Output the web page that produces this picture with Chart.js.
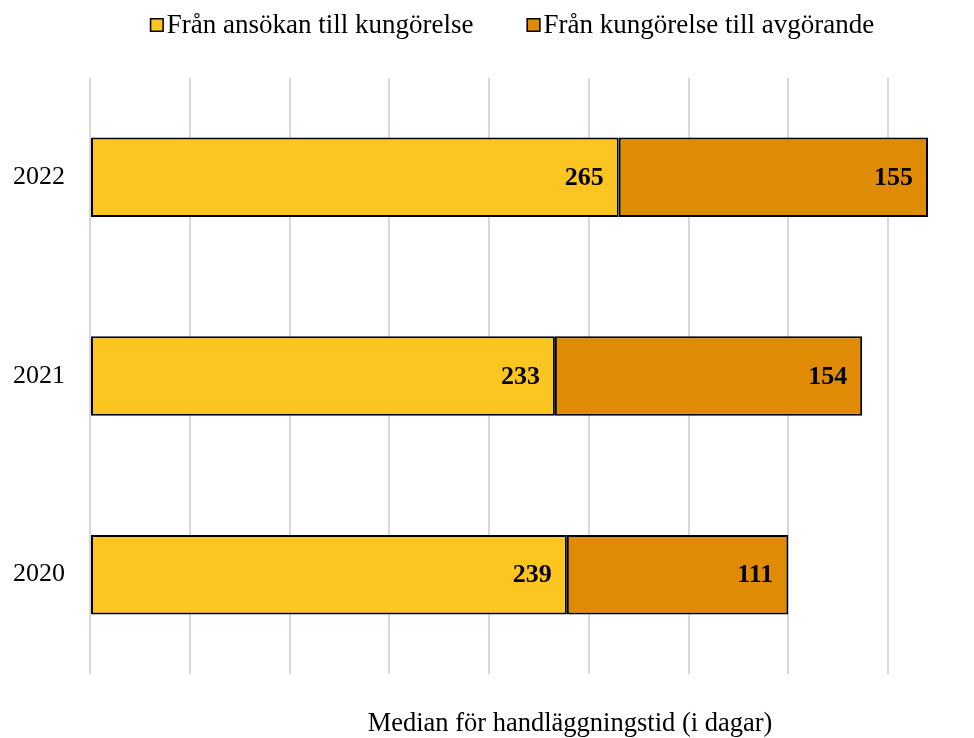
<!DOCTYPE html>
<html>
<head>
<meta charset="utf-8">
<script src="https://cdn.jsdelivr.net/npm/chart.js@4"></script>
<style>
  html, body { margin: 0; padding: 0; background: #fff; }
  #wrap { width: 974px; height: 738px; }
</style>
</head>
<body>
<div id="wrap"><canvas id="handlChart"></canvas></div>
<script>
const years = ['2022', '2021', '2020'];
const ansokanKungorelse = [265, 233, 239];
const kungorelseAvgorande = [155, 154, 111];
const seriesNames = ['Från ansökan till kungörelse', 'Från kungörelse till avgörande'];
const axisTitle = 'Median för handläggningstid (i dagar)';

const serif = '"Liberation Serif", "Times New Roman", serif';

// value labels inside the bar ends, bold
const barLabels = {
    id: 'barLabels',
    afterDatasetsDraw(chart) {
        const ctx = chart.ctx;
        ctx.save();
        ctx.font = 'bold 26px ' + serif;
        ctx.fillStyle = '#000';
        ctx.textAlign = 'right';
        ctx.textBaseline = 'middle';
        chart.data.datasets.forEach((ds, i) => {
            chart.getDatasetMeta(i).data.forEach((bar, j) => {
                ctx.fillText(ds.data[j], bar.x - 15, bar.y + 1);
            });
        });
        ctx.restore();
    }
};

// legend drawn by hand: small box tight against the text
const topLegend = {
    id: 'topLegend',
    afterDraw(chart) {
        const ctx = chart.ctx;
        const area = chart.chartArea;
        const box = 14, gap = 3, itemGap = 53;
        ctx.save();
        ctx.font = '27px ' + serif;
        const items = chart.data.datasets.map(ds => ({
            text: ds.label,
            color: ds.backgroundColor,
            w: box + gap + ctx.measureText(ds.label).width,
        }));
        const total = items.reduce((s, it) => s + it.w, 0) + itemGap * (items.length - 1);
        let x = (area.left + area.right) / 2 - total / 2 + 3;
        const cy = 25;
        ctx.textBaseline = 'middle';
        ctx.textAlign = 'left';
        items.forEach(it => {
            ctx.fillStyle = it.color;
            ctx.fillRect(x, cy - 7, box, box);
            ctx.strokeStyle = '#000';
            ctx.lineWidth = 1.5;
            ctx.strokeRect(x + 0.75, cy - 7 + 0.75, box - 1.5, box - 1.5);
            ctx.fillStyle = '#000';
            ctx.fillText(it.text, x + box + gap, cy + 1);
            x += it.w + itemGap;
        });
        ctx.restore();
    }
};

const bottomTitle = {
    id: 'bottomTitle',
    afterDraw(chart) {
        const ctx = chart.ctx;
        const area = chart.chartArea;
        ctx.save();
        ctx.font = '26.5px ' + serif;
        ctx.fillStyle = '#000';
        ctx.textAlign = 'center';
        ctx.textBaseline = 'middle';
        ctx.fillText(axisTitle, area.left + 480, area.bottom + 50);
        ctx.restore();
    }
};

const hc = document.getElementById('handlChart');

if (hc) {
    new Chart(hc, {
        type: 'bar',
        data: {
            labels: years,
            datasets: [
                {
                    label: seriesNames[0],
                    data: ansokanKungorelse,
                    backgroundColor: '#FDC51F',
                    borderColor: '#000',
                    borderWidth: 2,
                    borderSkipped: false,
                    barPercentage: 0.4,
                    categoryPercentage: 1,
                },
                {
                    label: seriesNames[1],
                    data: kungorelseAvgorande,
                    backgroundColor: '#E08B05',
                    borderColor: '#000',
                    borderWidth: 2,
                    borderSkipped: false,
                    barPercentage: 0.4,
                    categoryPercentage: 1,
                },
            ],
        },
        plugins: [barLabels, topLegend, bottomTitle],
        options: {
            indexAxis: 'y',
            responsive: true,
            maintainAspectRatio: false,
            animation: false,
            layout: {
                padding: { top: 78, right: 46, bottom: 0, left: 0 },
            },
            plugins: {
                legend: { display: false },
                tooltip: { enabled: false },
            },
            scales: {
                x: {
                    stacked: true,
                    min: 0,
                    max: 420,
                    afterBuildTicks(scale) {
                        scale.ticks = scale.ticks.filter(t => t.value % 50 === 0);
                    },
                    afterFit(scale) {
                        scale.height = 64;
                    },
                    ticks: { display: false, stepSize: 50 },
                    grid: { color: '#d9d9d9', lineWidth: 2, drawTicks: false },
                    border: { display: false },
                },
                y: {
                    stacked: true,
                    afterFit(scale) {
                        scale.width = 90;
                    },
                    ticks: {
                        font: { family: serif, size: 26 },
                        color: '#000',
                        padding: 25,
                    },
                    grid: { display: false, drawTicks: false },
                    border: { display: false },
                },
            },
        },
    });
}
</script>
</body>
</html>
